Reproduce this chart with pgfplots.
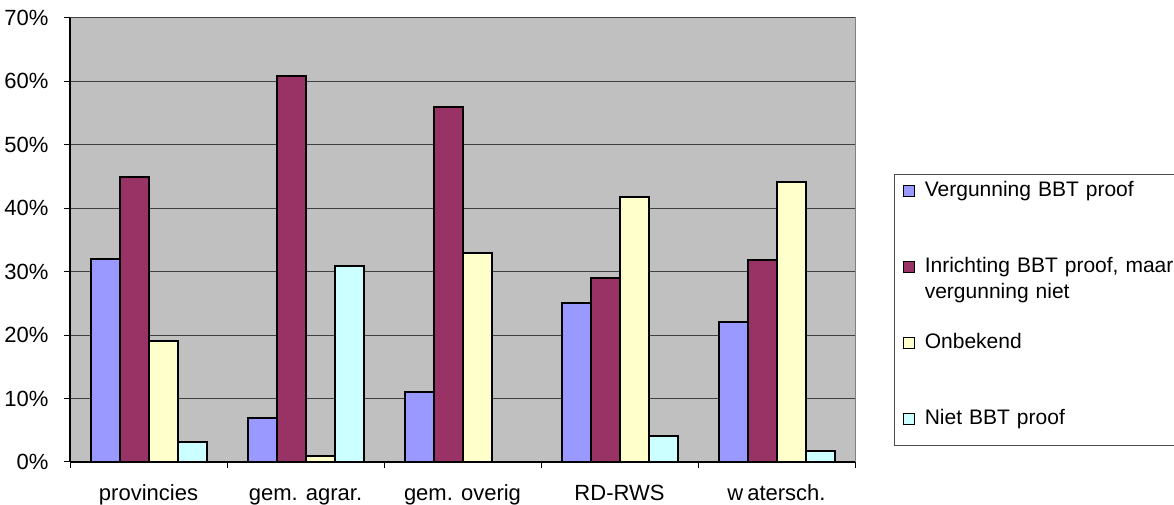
\documentclass[border=0pt]{standalone}
\usepackage{fontspec}
\setmainfont{Liberation Sans}
\usepackage{pgfplots}
\pgfplotsset{compat=1.18}
\definecolor{cBlue}{HTML}{9999FF}
\definecolor{cPurple}{HTML}{993366}
\definecolor{cYellow}{HTML}{FFFFCC}
\definecolor{cCyan}{HTML}{CCFFFF}
\definecolor{cBg}{HTML}{C0C0C0}
\begin{document}
\begin{tikzpicture}[x=1pt,y=1pt]
\useasboundingbox (0,0) rectangle (1174,505);
\begin{axis}[
  at={(70pt,43pt)}, anchor=south west,
  width=785pt, height=444pt, scale only axis,
  xmin=-0.5, xmax=4.5, ymin=0, ymax=70,
  ybar=0pt, bar width=29pt,
  axis background/.style={fill=cBg, draw=black!50, line width=1pt},
  axis lines*=left,
  axis line style={-, draw=black, line width=1.2pt},
  ymajorgrids, grid style={draw=black!75, line width=1pt},
  ytick={0,10,...,70},
  yticklabels={0\%,10\%,20\%,30\%,40\%,50\%,60\%,70\%},
  xtick={0,1,2,3,4},
  xticklabels={provincies, gem. agrar., gem. overig, RD-RWS, w\hspace{4pt}atersch.},
  minor xtick={-0.5,0.5,...,4.5},
  tick align=outside, major tick length=6pt, minor tick length=6pt,
  every major x tick/.append style={draw=none},
  tick style={draw=black, line width=1pt},
  /pgf/number format/assume math mode=true,
  tick label style={font=\fontsize{22}{26}\selectfont},
  xticklabel style={text height=15pt, text depth=5pt, yshift=-14pt},
  yticklabel style={xshift=-12pt},
  legend style={at={(1.0497,0.6486)}, anchor=north west, draw=black!70, line width=1pt,
    fill=white, inner xsep=8pt, inner ysep=4pt, row sep=24pt,
    font=\fontsize{21}{26}\selectfont,
    cells={anchor=base west},
    nodes={inner sep=0pt, text depth=, text height=, text width=250pt, align=left},
    /tikz/every odd column/.append style={column sep=10pt}},
  legend image code/.code={\draw[#1, line width=1.3pt] (0pt,0.5pt) rectangle (11pt,11.5pt);},
]
\addplot[fill=cBlue, draw=black, line width=2pt] coordinates {(0,32) (1,7) (2,11) (3,25) (4,22)};
\addplot[fill=cPurple, draw=black, line width=2pt] coordinates {(0,45) (1,60.8) (2,56) (3,29) (4,31.8)};
\addplot[fill=cYellow, draw=black, line width=2pt] coordinates {(0,19) (1,1) (2,33) (3,41.8) (4,44.1)};
\addplot[fill=cCyan, draw=black, line width=2pt] coordinates {(0,3.1) (1,30.9) (3,4.1) (4,1.8)};
\addlegendentry{\strut Vergunning BBT proof\\\strut}
\addlegendentry{\strut Inrichting BBT proof, maar\\\strut vergunning niet}
\addlegendentry{\strut Onbekend\\\strut}
\addlegendentry{\strut Niet BBT proof\rule[-17pt]{0pt}{0pt}}
\end{axis}
\end{tikzpicture}
\end{document}
